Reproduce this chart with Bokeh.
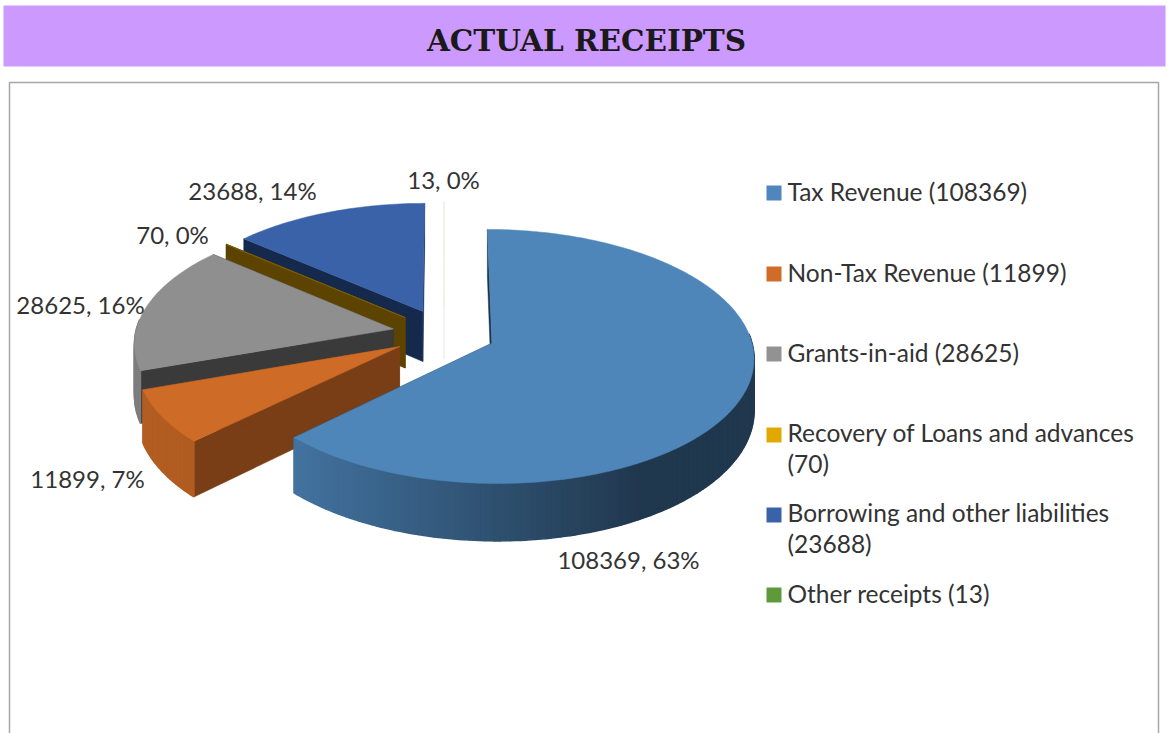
import numpy as np
from bokeh.plotting import figure
from bokeh.models import Range1d
from bokeh.core.properties import value
from bokeh.embed import file_html
from bokeh.resources import INLINE

# ---- data ----
title_text = "ACTUAL RECEIPTS"
categories = ["Tax Revenue", "Non-Tax Revenue", "Grants-in-aid",
              "Recovery of Loans and advances", "Borrowing and other liabilities", "Other receipts"]
values = [108369, 11899, 28625, 70, 23688, 13]
percents = [63, 7, 16, 0, 14, 0]
legend_colors = ["#4f86bb", "#d06c27", "#929292", "#e3a800", "#3a62a8", "#5f9a3a"]

# ---- styles / layout ----
top_colors = ["#4e86ba", "#cd6b27", "#8f8f8f", "#7a5c00", "#3a62a8", "#f1f1ea"]
wall_colors = ["#1b3350", "#7a3e17", "#3a3a3a", "#5c4400", "#15294d", "#f1f1ea"]
label_pos = [(628, 559), (87, 478), (80, 304), (172, 234), (252, 190), (443, 179)]
legend_text_breaks = {3: "Recovery of Loans and advances\n(70)", 4: "Borrowing and other liabilities\n(23688)"}
legend_y = [192.5, 273.5, 353.5, 434.5, 514.5, 594.5]
legend_text_dy = -2
paint_order = [4, 5, 3, 2, 1, 0]

cx, cy, a, b, k, depth, explode = 443.5, 333.0, 258.0, 123.6, 0.1035, 51.0, 0.2
FONT = "Lato"
TXT = "#333333"


def proj(u, v, z=0.0):
    s = 1.0 / (1.0 - k * v)
    return cx + a * u * s, cy + b * v * s + z * depth * s


def shade(hex_color, t):
    r, g, bl = [int(hex_color[i:i + 2], 16) for i in (1, 3, 5)]
    return "#%02x%02x%02x" % (int(r * t), int(g * t), int(bl * t))


p = figure(width=1168, height=733, x_range=Range1d(0, 1168), y_range=Range1d(733, 0),
           output_backend="svg", toolbar_location=None, min_border=0, outline_line_color=None)
p.axis.visible = False
p.grid.visible = False

# banner and frame
p.quad(left=[3], right=[1165], top=[5], bottom=[66], fill_color="#cc99ff", line_color=None)
p.text(x=[586], y=[40], text=[title_text], text_font=value("DejaVu Serif"), text_font_style="bold",
       text_font_size="29.5px", text_align="center", text_baseline="middle", text_color="#1a1a1a")
p.multi_line(xs=[[9, 9, 1158, 1158]], ys=[[733, 82, 82, 733]], line_color="#a6a6a6", line_width=1.5)

# pie
total = sum(values)
fracs = np.array(values) / total
starts = np.concatenate([[0], np.cumsum(fracs)[:-1]]) * 2 * np.pi
ends = np.cumsum(fracs) * 2 * np.pi


def add_poly(xs, ys, color, lw=1.0):
    p.patch(xs, ys, fill_color=color, line_color=color, line_width=lw)


for i in paint_order:
    t0, t1 = starts[i], ends[i]
    mid = (t0 + t1) / 2
    ou, ov = explode * np.sin(mid), -explode * np.cos(mid)
    n = max(3, int((t1 - t0) / np.radians(1.0)))
    th = np.linspace(t0, t1, n)
    us = ou + np.sin(th)
    vs = ov - np.cos(th)

    # radial walls
    for t in (t0, t1):
        w = [proj(ou, ov), proj(ou + np.sin(t), ov - np.cos(t)),
             proj(ou + np.sin(t), ov - np.cos(t), 1), proj(ou, ov, 1)]
        add_poly([q[0] for q in w], [q[1] for q in w], wall_colors[i], 0.5)

    # outer rim, shaded by facing direction; only the part turned to the viewer
    for j in range(n - 1):
        if i == 5:
            break
        tm = (th[j] + th[j + 1]) / 2
        if -np.cos(tm) < -0.08:
            continue
        f = np.interp(np.sin(tm), [-1, -0.72, 0, 0.5, 1], [0.88, 0.86, 0.6, 0.42, 0.42])
        c = shade(top_colors[i], f)
        q = [proj(us[j], vs[j]), proj(us[j + 1], vs[j + 1]), proj(us[j + 1], vs[j + 1], 1), proj(us[j], vs[j], 1)]
        add_poly([e[0] for e in q], [e[1] for e in q], c, 1.5)

    # top face
    px = [proj(ou, ov)[0]] + [proj(u, v)[0] for u, v in zip(us, vs)]
    py = [proj(ou, ov)[1]] + [proj(u, v)[1] for u, v in zip(us, vs)]
    add_poly(px, py, top_colors[i], 1.0 if fracs[i] < 0.005 else 0.5)

# data labels
p.text(x=[q[0] for q in label_pos], y=[q[1] for q in label_pos],
       text=[f"{v}, {pc}%" for v, pc in zip(values, percents)],
       text_font=value(FONT), text_font_size="24px", text_align="center", text_baseline="middle", text_color=TXT)

# legend
p.rect(x=[773.5] * 6, y=legend_y, width=15, height=15, fill_color=legend_colors, line_color=None)
for i, (name, v) in enumerate(zip(categories, values)):
    label = legend_text_breaks.get(i, f"{name} ({v})")
    p.text(x=[787], y=[legend_y[i] + legend_text_dy + (0 if "\n" not in label else 15)], text=[label],
           text_font=value(FONT), text_font_size="24.5px", text_align="left", text_baseline="middle",
           text_color=TXT, text_line_height=1.09)

open("out.html", "w").write(file_html(p, INLINE))
